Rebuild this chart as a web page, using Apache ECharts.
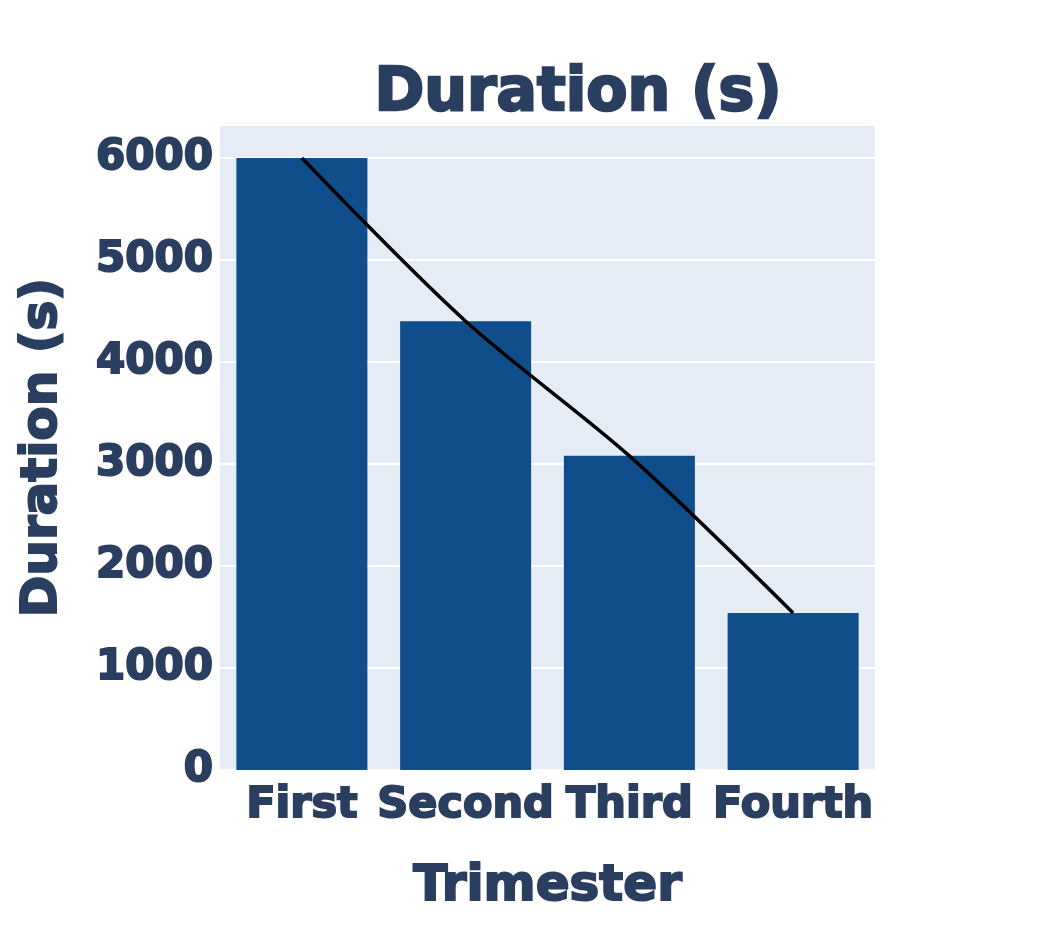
<!DOCTYPE html>
<html><head><meta charset="utf-8">
<script src="https://cdn.jsdelivr.net/npm/echarts@6/dist/echarts.min.js"></script>
<style>html,body{margin:0;padding:0;background:#fff}#c{width:1042px;height:939px}</style>
</head><body><div id="c"></div>
<script>
const categories = ['First', 'Second', 'Third', 'Fourth'];
const durations = [6000, 4400, 3080, 1540];
const trendValues = [6000, 4400, 3080, 1540];
const yTicks = [0, 1000, 2000, 3000, 4000, 5000, 6000];

const FONT = 'DejaVu Sans';
const TXT = '#2a3f5f';
const heavy = {fontFamily: FONT, fontWeight: 'bold', color: TXT, textBorderColor: TXT, textBorderWidth: 2};
const chart = echarts.init(document.getElementById('c'), null, {renderer: 'canvas'});
chart.setOption({
  animation: false,
  backgroundColor: '#ffffff',
  title: {
    text: 'Duration (s)', left: 573, top: 59, textAlign: 'center',
    textStyle: Object.assign({}, heavy, {fontSize: 60, textBorderWidth: 2.5})
  },
  grid: {left: 220, right: 167, top: 125, bottom: 169, show: true, backgroundColor: '#e5ecf6', borderWidth: 0},
  xAxis: {
    type: 'category', data: categories,
    name: 'Trimester', nameLocation: 'middle', nameGap: 92,
    nameTextStyle: Object.assign({}, heavy, {fontSize: 50}),
    axisLine: {show: false}, axisTick: {show: false},
    axisLabel: Object.assign({}, heavy, {fontSize: 43, margin: 14, interval: 0})
  },
  yAxis: {
    type: 'value', min: 0, max: 6324, interval: 1000,
    name: 'Duration (s)', nameLocation: 'middle', nameGap: 152,
    nameTextStyle: Object.assign({}, heavy, {fontSize: 50}),
    axisLine: {show: false}, axisTick: {show: false},
    splitLine: {lineStyle: {color: '#ffffff', width: 2}},
    axisLabel: Object.assign({}, heavy, {fontSize: 42, margin: 7,
      formatter: v => yTicks.includes(v) ? String(v) : ''})
  },
  series: [
    {type: 'bar', data: durations, barCategoryGap: '20%', itemStyle: {color: '#0f4e8a'}},
    {type: 'line', data: trendValues, smooth: 0.3, showSymbol: false, symbol: 'none',
      lineStyle: {color: '#000000', width: 3.5}, z: 5}
  ]
});
</script></body></html>
